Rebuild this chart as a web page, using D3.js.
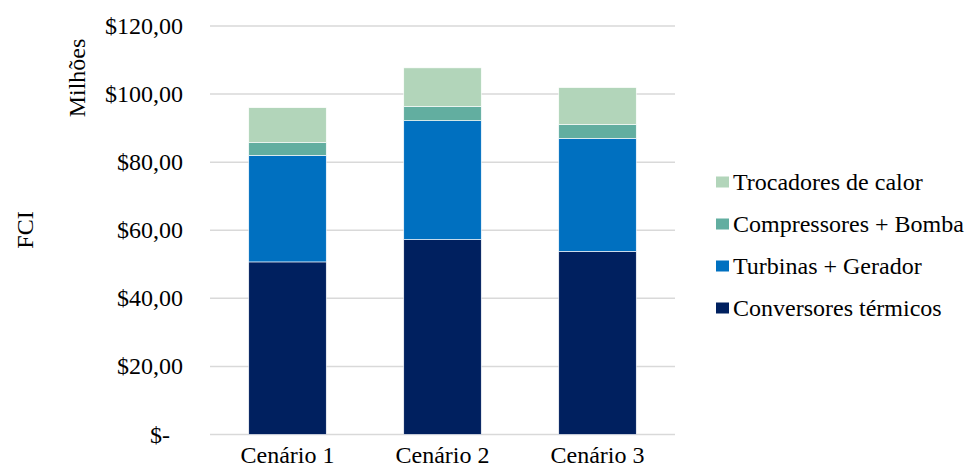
<!DOCTYPE html>
<html>
<head>
<meta charset="utf-8">
<script src="https://cdn.jsdelivr.net/npm/d3@7"></script>
<style>
  body { margin: 0; background: #fff; }
  svg text { font-family: 'Liberation Serif' !important; }
</style>
</head>
<body>
<svg id="chart" width="966" height="473"></svg>
<script>
const categories = ["Cenário 1", "Cenário 2", "Cenário 3"];
const seriesNames = ["Conversores térmicos", "Turbinas + Gerador", "Compressores + Bomba", "Trocadores de calor"];
const conversores = [50.7, 57.3, 53.8];
const turbinas = [31.3, 34.9, 33.2];
const compressores = [3.8, 4.2, 4.1];
const trocadores = [10.2, 11.3, 10.8];
const yTicks = [0, 20, 40, 60, 80, 100, 120];
const seriesColors = ["#00205F", "#0070C0", "#62AEA0", "#B2D5BA"];

const svg = d3.select("#chart").style("font-family", "'Liberation Serif'", "important");
const plotLeft = 210, plotRight = 675, plotTop = 26, plotBottom = 434.5;

const rows = categories.map((c, i) => ({
  cat: c,
  [seriesNames[0]]: conversores[i],
  [seriesNames[1]]: turbinas[i],
  [seriesNames[2]]: compressores[i],
  [seriesNames[3]]: trocadores[i]
}));
const stack = d3.stack().keys(seriesNames)(rows);

const x = d3.scaleBand().domain(categories).range([plotLeft, plotRight]).paddingInner(0.5).paddingOuter(0.25);
const y = d3.scaleLinear().domain([0, 120]).range([plotBottom, plotTop]);
const color = d3.scaleOrdinal().domain(seriesNames).range(seriesColors);

// gridlines
svg.append("g").selectAll("line").data(yTicks).join("line")
  .attr("x1", plotLeft).attr("x2", plotRight)
  .attr("y1", d => y(d)).attr("y2", d => y(d))
  .attr("stroke", "#D9D9D9").attr("stroke-width", 1.5);

function styleText(sel) {
  return sel.style("font-family", "'Liberation Serif'", "important")
    .attr("font-size", 24).attr("fill", "#000");
}

// y tick labels
const fmt = v => v === 0 ? "$-" : "$" + d3.format(".2f")(v).replace(".", ",");
svg.selectAll("text.ytick").data(yTicks).join("text")
  .attr("class", "ytick")
  .attr("x", d => d === 0 ? 170 : 183)
  .attr("y", d => y(d) + 8)
  .attr("text-anchor", "end")
  .call(styleText)
  .text(fmt);

// bars
svg.append("g").selectAll("g").data(stack).join("g")
  .attr("fill", d => color(d.key))
  .selectAll("rect").data(d => d).join("rect")
  .attr("x", d => x(d.data.cat))
  .attr("width", x.bandwidth())
  .attr("y", d => y(d[1]))
  .attr("height", d => y(d[0]) - y(d[1]))
  .attr("stroke", "#ffffff").attr("stroke-width", 0.6);

// x labels
svg.selectAll("text.xlab").data(categories).join("text")
  .attr("class", "xlab")
  .attr("x", d => x(d) + x.bandwidth() / 2)
  .attr("y", 463)
  .attr("text-anchor", "middle")
  .call(styleText)
  .text(d => d);

// axis titles
svg.append("text")
  .attr("transform", "translate(85,78) rotate(-90)")
  .attr("text-anchor", "middle")
  .call(styleText)
  .text("Milhões");
svg.append("text")
  .attr("transform", "translate(33,230) rotate(-90)")
  .attr("text-anchor", "middle")
  .call(styleText)
  .text("FCI");

// legend
const legendOrder = seriesNames.slice().reverse();
svg.selectAll("rect.legsw").data(legendOrder).join("rect")
  .attr("class", "legsw")
  .attr("x", 716).attr("y", (d, i) => 176.5 + i * 42)
  .attr("width", 13).attr("height", 11)
  .attr("fill", d => color(d));
svg.selectAll("text.legtx").data(legendOrder).join("text")
  .attr("class", "legtx")
  .attr("x", 733).attr("y", (d, i) => 190 + i * 42)
  .call(styleText).text(d => d);
</script>
</body>
</html>
